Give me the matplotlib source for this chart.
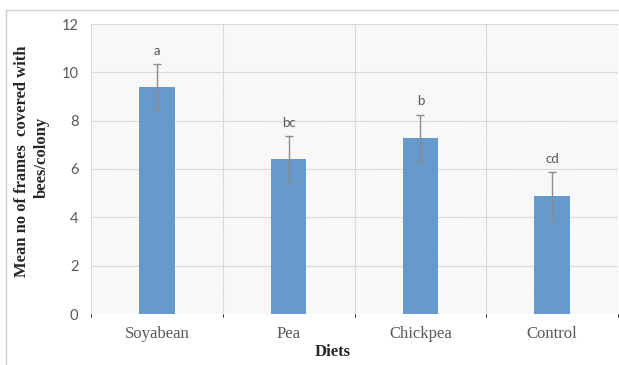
import numpy as np
import matplotlib.pyplot as plt
from matplotlib.patches import Rectangle

diets = ['Soyabean', 'Pea', 'Chickpea', 'Control']
means = [9.38, 6.40, 7.28, 4.90]
errors = [0.95, 0.95, 0.97, 0.96]
letters = ['a', 'bc', 'b', 'cd']

plt.rcParams['hatch.linewidth'] = 0.5

W, H = 619, 365
fig = plt.figure(figsize=(W / 100, H / 100), dpi=100)

# outer chart border (left + top visible)
fig.add_artist(plt.Line2D([6 / W, 6 / W], [0, 1 - 10 / H], color='#d0d0d0', lw=1))
fig.add_artist(plt.Line2D([6 / W, 1], [1 - 10 / H, 1 - 10 / H], color='#d0d0d0', lw=1))

ax = fig.add_axes([91 / W, 51 / H, 527 / W, 290 / H])
x = np.arange(len(diets))

# light hatched plot background
ax.add_patch(Rectangle((0, 0), 1, 1, transform=ax.transAxes, facecolor='#fbfbfb',
                       hatch='\\\\\\\\\\\\\\\\', edgecolor='#efefef', lw=0, zorder=0))

ax.bar(x, means, width=0.27, color='#6699cc', zorder=3,
       yerr=errors, error_kw=dict(ecolor='#8c8c8c', elinewidth=1, capsize=3, capthick=1))

for xi, m, e, lab in zip(x, means, errors, letters):
    ax.text(xi, m + e + 0.3, lab, ha='center', va='bottom', fontsize=9.5,
            color='#595959', family='Lato')

ax.set_xlim(-0.5, len(diets) - 0.5)
ax.set_ylim(0, 12)
ax.set_yticks(np.arange(0, 13, 2))
ax.set_xticks(x)
ax.set_xticklabels(diets, family='Liberation Serif', fontsize=12, color='#595959')
for t in ax.get_yticklabels():
    t.set_family('Lato')
    t.set_fontsize(10.5)
    t.set_color('#595959')
ax.tick_params(length=0, pad=9)
ax.tick_params(axis='x', pad=9)

ax.set_xticks(np.arange(-0.5, len(diets)), minor=True)
ax.grid(True, which='minor', axis='x', color='#d9d9d9', lw=0.8, zorder=1)
ax.grid(True, which='major', axis='y', color='#d9d9d9', lw=0.8, zorder=1)
for s in ax.spines.values():
    s.set_visible(False)

fig.text(22 / W, 1 - 161 / H, 'Mean no of frames  covered with', rotation=90,
         ha='center', va='center', family='Liberation Serif', fontweight='bold',
         fontsize=12, color='#262626')
fig.text(42 / W, 1 - 157 / H, 'bees/colony', rotation=90,
         ha='center', va='center', family='Liberation Serif', fontweight='bold',
         fontsize=12, color='#262626')
fig.text(333 / W, 1 - 352 / H, 'Diets', ha='center', va='center',
         family='Liberation Serif', fontweight='bold', fontsize=12, color='#262626')

fig.savefig('out.png', dpi=100)
